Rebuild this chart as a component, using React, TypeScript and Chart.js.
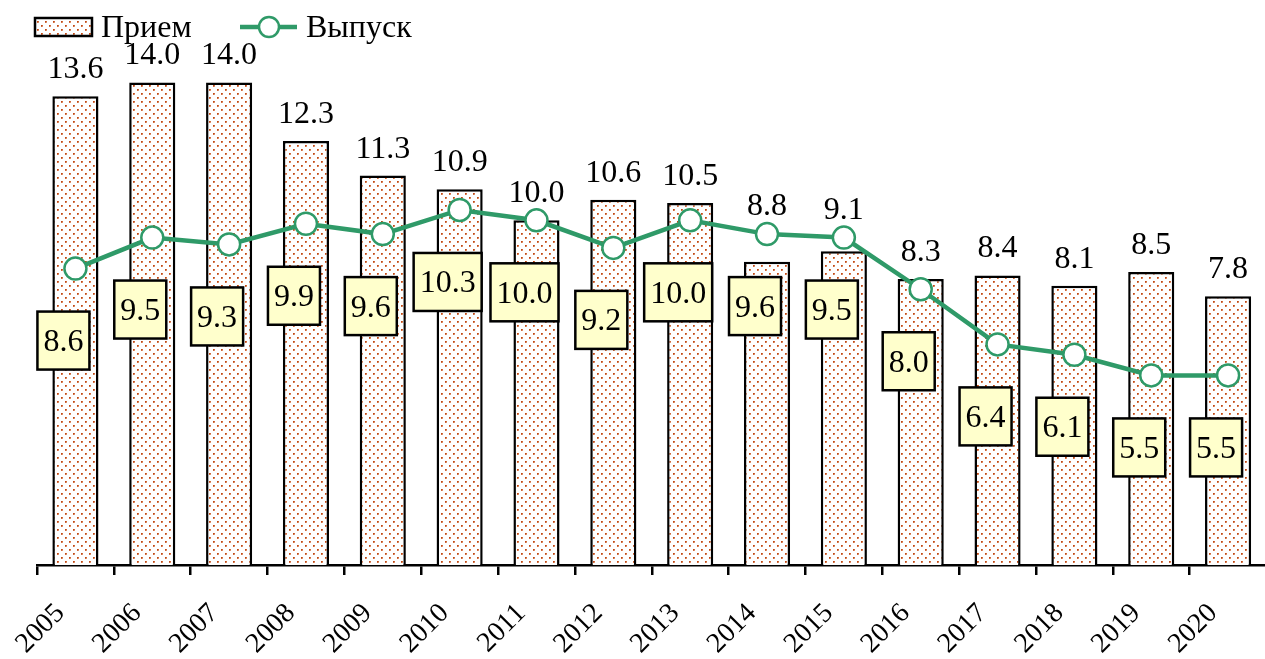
import React, { useEffect, useRef } from "react";
import { Chart, registerables } from "chart.js";

Chart.register(...registerables);

const years = ["2005", "2006", "2007", "2008", "2009", "2010", "2011", "2012", "2013", "2014", "2015", "2016", "2017", "2018", "2019", "2020"];
const priem = [13.6, 14.0, 14.0, 12.3, 11.3, 10.9, 10.0, 10.6, 10.5, 8.8, 9.1, 8.3, 8.4, 8.1, 8.5, 7.8];
const vypusk = [8.6, 9.5, 9.3, 9.9, 9.6, 10.3, 10.0, 9.2, 10.0, 9.6, 9.5, 8.0, 6.4, 6.1, 5.5, 5.5];
const seriesNames = ["Прием", "Выпуск"];

const GREEN = "#2f9a68";
const FONT = "'Liberation Serif', 'Times New Roman', serif";

function makePattern(): CanvasPattern | string {
  const c = document.createElement("canvas");
  c.width = 8;
  c.height = 8;
  const g = c.getContext("2d");
  if (!g) return "#fff";
  g.fillStyle = "#ffffff";
  g.fillRect(0, 0, 8, 8);
  const dot = (x: number, y: number) => {
    g.fillStyle = "#bd4a18";
    g.fillRect(x, y, 1, 1);
    g.fillStyle = "#cf6a3c";
    g.fillRect(x + 1, y, 1, 1);
    g.fillRect(x, y + 1, 1, 1);
    g.fillStyle = "#e09570";
    g.fillRect(x + 1, y + 1, 1, 1);
  };
  dot(1, 1);
  dot(5, 5);
  const p = g.createPattern(c, "repeat");
  return p || "#fff";
}

export default function App() {
  const ref = useRef<HTMLCanvasElement | null>(null);

  useEffect(() => {
    document.documentElement.style.overflow = "hidden";
    document.body.style.overflow = "hidden";
    const canvas = ref.current;
    if (!canvas) return;
    const pattern = makePattern();

    const labelsPlugin = {
      id: "customLabels",
      afterDraw(chart: any) {
        const ctx = chart.ctx as CanvasRenderingContext2D;
        ctx.save();
        // Legend
        ctx.lineWidth = 2.5;
        ctx.fillStyle = pattern as any;
        ctx.fillRect(35, 18, 57, 18);
        ctx.strokeStyle = "#000";
        ctx.strokeRect(35, 18, 57, 18);
        ctx.font = `32px ${FONT}`;
        ctx.fillStyle = "#000";
        ctx.textAlign = "left";
        ctx.textBaseline = "middle";
        ctx.fillText(seriesNames[0], 101, 29);
        ctx.strokeStyle = GREEN;
        ctx.lineWidth = 4.5;
        ctx.beginPath();
        ctx.moveTo(240, 27);
        ctx.lineTo(297, 27);
        ctx.stroke();
        ctx.beginPath();
        ctx.arc(269, 27, 10, 0, Math.PI * 2);
        ctx.fillStyle = "#fff";
        ctx.fill();
        ctx.lineWidth = 2.5;
        ctx.stroke();
        ctx.fillStyle = "#000";
        ctx.fillText(seriesNames[1], 306, 29);

        const barMeta = chart.getDatasetMeta(0);
        const lineMeta = chart.getDatasetMeta(1);

        // Bar value labels (moved above the line marker where they would collide)
        ctx.textAlign = "center";
        ctx.textBaseline = "alphabetic";
        ctx.font = `32px ${FONT}`;
        barMeta.data.forEach((el: any, i: number) => {
          let base = el.y - 18;
          const p = lineMeta.data[i];
          if (p && base > p.y - 12 && base - 22 < p.y + 12) {
            base = p.y - 19;
          }
          ctx.fillText(priem[i].toFixed(1), el.x, base);
        });

        // Line value labels (boxes)
        lineMeta.data.forEach((el: any, i: number) => {
          const txt = vypusk[i].toFixed(1);
          const w = ctx.measureText(txt).width + 12;
          const h = 58;
          const cx = el.x - 12;
          const cy = el.y + 72;
          ctx.fillStyle = "#ffffcc";
          ctx.fillRect(cx - w / 2, cy - h / 2, w, h);
          ctx.strokeStyle = "#000";
          ctx.lineWidth = 2.5;
          ctx.strokeRect(cx - w / 2, cy - h / 2, w, h);
          ctx.fillStyle = "#000";
          ctx.textBaseline = "middle";
          ctx.fillText(txt, cx, cy + 2);
        });
        ctx.restore();
      },
    };

    const chart = new Chart(canvas, {
      type: "bar",
      data: {
        labels: years,
        datasets: [
          {
            type: "bar",
            label: seriesNames[0],
            data: priem,
            backgroundColor: pattern as any,
            borderColor: "#000",
            borderWidth: 2.5,
            barPercentage: 0.6,
            categoryPercentage: 1,
            order: 2,
          },
          {
            type: "line",
            label: seriesNames[1],
            data: vypusk,
            borderColor: GREEN,
            borderWidth: 4.5,
            pointRadius: 11,
            pointBorderWidth: 2.5,
            pointBackgroundColor: "#fff",
            pointBorderColor: GREEN,
            tension: 0,
            order: 1,
          } as any,
        ],
      },
      options: {
        responsive: false,
        animation: false,
        devicePixelRatio: 1,
        layout: { padding: { left: 37, right: 7, top: 13, bottom: 0 } },
        plugins: {
          legend: { display: false },
          tooltip: { enabled: false },
        },
        scales: {
          x: {
            afterFit: (scale: any) => {
              scale.height = 94;
            },
            border: { display: true, color: "#000", width: 2.5 },
            grid: {
              display: true,
              offset: true,
              drawOnChartArea: false,
              drawTicks: true,
              tickLength: 10,
              color: "#000",
              lineWidth: 2.5,
            },
            ticks: {
              color: "#000",
              font: { family: FONT, size: 28 },
              minRotation: 45,
              maxRotation: 45,
              padding: 22,
              labelOffset: -15,
              autoSkip: false,
            },
          },
          y: {
            display: false,
            min: 0,
            max: 16,
          },
        },
      },
      plugins: [labelsPlugin],
    });
    return () => chart.destroy();
  }, []);

  return (
    <div style={{ position: "fixed", left: 0, top: 0, width: 1280, height: 659, overflow: "hidden", background: "#fff" }}>
      <canvas ref={ref} width={1280} height={659} style={{ display: "block" }} />
    </div>
  );
}
